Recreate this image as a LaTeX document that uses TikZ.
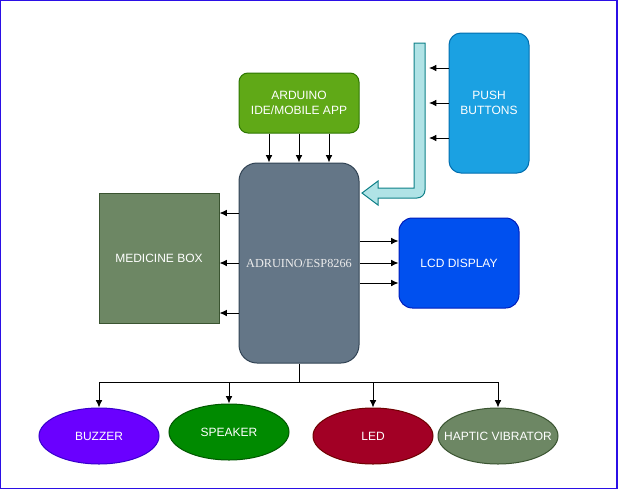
\documentclass[tikz,border=0pt]{standalone}
\usepackage{fontspec}
\setmainfont{Liberation Serif}
\setsansfont{Liberation Sans}
\usetikzlibrary{shapes.geometric, arrows.meta}
\tikzset{>={Latex[length=5.5pt, width=5pt]}}
\definecolor{cfrm}{HTML}{2B0FE6}
\definecolor{cide}{HTML}{60A917}\definecolor{cided}{HTML}{2D7600}
\definecolor{cpb}{HTML}{1BA1E2}\definecolor{cpbd}{HTML}{006EAF}
\definecolor{cmcu}{HTML}{647687}\definecolor{cmcud}{HTML}{314354}
\definecolor{cbox}{HTML}{6D8764}\definecolor{cboxd}{HTML}{3A5431}
\definecolor{clcd}{HTML}{0050EF}\definecolor{clcdd}{HTML}{001DBC}
\definecolor{cbuz}{HTML}{6A00FF}\definecolor{cbuzd}{HTML}{3700CC}
\definecolor{cspk}{HTML}{008A00}\definecolor{cspkd}{HTML}{005700}
\definecolor{cled}{HTML}{A20025}\definecolor{cledd}{HTML}{6F0000}
\definecolor{cfat}{HTML}{B0E3E6}\definecolor{cfatd}{HTML}{0E8088}
\newcommand{\txtfont}{\sffamily\fontsize{9}{11}\selectfont}
\tikzset{
	blk/.style={draw, line width=.75pt, text=white, font=\txtfont, align=center, inner sep=0pt},
	rblk/.style={blk, rounded corners=#1},
	outnode/.style={ellipse, draw, line width=.75pt, minimum width=90pt, minimum height=42pt, inner sep=0pt},
	txt/.style={text=white, font=\txtfont},
	wire/.style={line width=.75pt, ->}
}

\begin{document}
\begin{tikzpicture}[x=.75pt, y=-.75pt]
    \useasboundingbox (0,0) rectangle (618,490);
    \draw[cfrm, line width=1.2pt] (.6,.6) rectangle (617,488.6);
    % blocks
    \node[rblk=6.75pt, fill=cide, draw=cided, minimum width=90pt, minimum height=45pt] (ide) at (299,103) {ARDUINO\\IDE/MOBILE APP};
    \node[rblk=9pt, fill=cpb, draw=cpbd, minimum width=60pt, minimum height=105pt] (push) at (489,103) {PUSH\\BUTTONS};
    \node[rblk=13.5pt, fill=cmcu, draw=cmcud, minimum width=90pt, minimum height=150pt, text=gray!15, font=\rmfamily\fontsize{9.2}{11}\selectfont] (mcu) at (299,263) {ADRUINO/ESP8266};
    \node[blk, fill=cbox, draw=cboxd, minimum width=90pt, minimum height=97.5pt] (box) at (159,258) {MEDICINE BOX};
    \node[rblk=10pt, fill=clcd, draw=clcdd, minimum width=90pt, minimum height=67.5pt] (lcd) at (459,263) {LCD DISPLAY};
    % outputs
    \node[outnode, fill=cbuz, draw=cbuzd, label={[txt]center:BUZZER}] (buz) at (99,436) {};
    \node[outnode, fill=cspk, draw=cspkd, label={[txt]center:SPEAKER}] (spk) at (229,432) {};
    \node[outnode, fill=cled, draw=cledd, label={[txt]center:LED}] (led) at (373,436) {};
    \node[outnode, fill=cbox, draw=cboxd, label={[txt]center:HAPTIC VIBRATOR}] (hap) at (498,436) {};
    % input bus
    \draw[cfatd, fill=cfat, line width=.75pt] (414,43) -- (425,43) [rounded corners=6pt] -- (425,198) [sharp corners] -- (378,198) -- (378,205) -- (362,193) -- (378,181) -- (378,188) -- (414,188) -- cycle;
    \coordinate (band) at (429,0);
    % connections
    \foreach \x in {269,299,329} \draw[wire] (ide.south -| \x,0) -- (mcu.north -| \x,0);
    \foreach \y in {68,103,138} \draw[wire] (push.west |- 0,\y) -- (band |- 0,\y);
    \foreach \y in {213,263,313} \draw[wire] (mcu.west |- 0,\y) -- (box.east |- 0,\y);
    \foreach \y in {241,263,283} \draw[wire] (mcu.east |- 0,\y) -- (lcd.west |- 0,\y);
    \draw[line width=.75pt] (mcu.south) -- (299,382) coordinate (split);
    \foreach \n in {buz,spk,led,hap} \draw[wire] (split) -| (\n.north);
\end{tikzpicture}
\end{document}
